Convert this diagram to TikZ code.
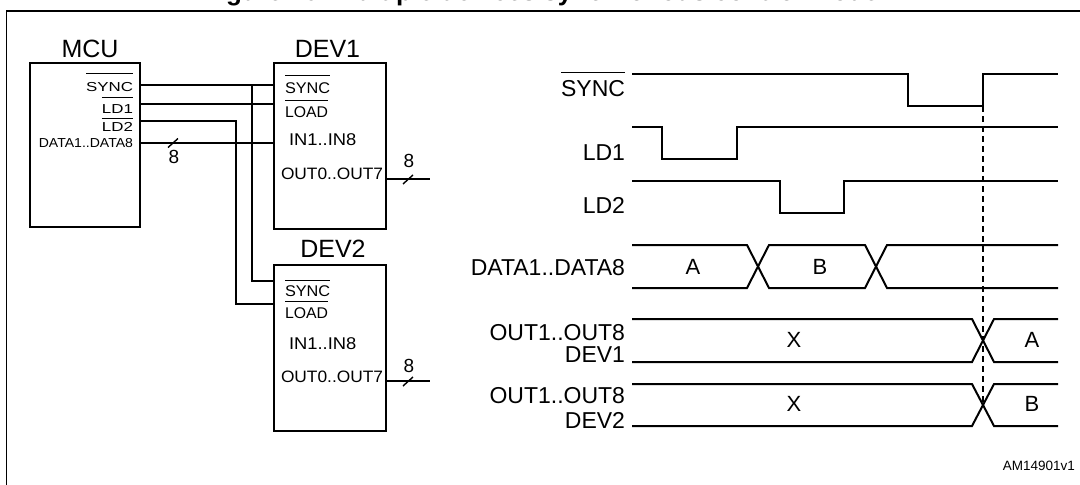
\documentclass[tikz,border=0pt]{standalone}
\usepackage{fontspec}
\setmainfont{Liberation Sans}
\newcommand\ovl[2]{\vbox{\hrule height 0.9pt\kern#1\hbox{#2}}}
\newcommand\fsz[1]{\fontsize{#1}{#1}\selectfont}
\tikzset{
  box/.style={draw, line width=2pt, inner sep=0pt, outer sep=0pt},
  wire/.style={line width=1.4pt},
  wave/.style={line width=2pt, line join=miter},
  txt/.style={inner sep=0pt, outer sep=0pt},
  pinm/.style={txt, font=\fsz{13}},
  pind/.style={txt, font=\fsz{15.5}},
  tlbl/.style={txt, font=\fsz{23}, anchor=base east},
  boxlbl/.style={txt, font=\fsz{25}, anchor=base},
  buslbl/.style={txt, font=\fsz{19}, anchor=base},
}
\begin{document}
\begin{tikzpicture}[x=1pt,y=-1pt]
\useasboundingbox (0,0) rectangle (1080,485);
% title (cut off at the top) and frame
\node[txt, font=\bfseries\fsz{26}, anchor=base west] (title) at (203,0) {Figure 10. Multiple devices synchronous control mode};
\draw[line width=1.6pt] (1080,11) -- (6.5,11) -- (6.5,485);

% boxes
\node[box, minimum width=110pt, minimum height=164pt] (mcu) at (85,145) {};
\node[box, minimum width=112pt, minimum height=166pt] (dev1) at (330,146) {};
\node[box, minimum width=112pt, minimum height=166pt] (dev2) at (330,348) {};
\node[boxlbl] (mculbl) at (90,57) {MCU};
\node[boxlbl] (dev1lbl) at (327.5,57) {DEV1};
\node[boxlbl] (dev2lbl) at (333,257) {DEV2};

% MCU pins
\node[pinm, anchor=base east] (msync) at (133,91) {\scalebox{1.3}[1]{\ovl{8.3pt}{SYNC}}};
\node[pinm, anchor=base east] (mld1) at (133,113) {\scalebox{1.3}[1]{\ovl{6.5pt}{LD1}}};
\node[pinm, anchor=base east] (mld2) at (133,131.5) {\scalebox{1.3}[1]{\ovl{3.4pt}{LD2}}};
\node[pinm, anchor=base east] (mdata) at (133,147) {\scalebox{1.08}[1]{DATA1..DATA8}};

% DEV1 pins
\node[pind, anchor=base west] (d1sync) at (285,93) {\scalebox{1.05}[1]{\ovl{6.2pt}{SYNC}}};
\node[pind, anchor=base west] (d1load) at (285,117) {\scalebox{1.02}[1]{\ovl{5pt}{LOAD}}};
\node[txt, font=\fsz{17}, anchor=base west] (d1in) at (289,145) {\scalebox{1.08}[1]{IN1..IN8}};
\node[txt, font=\fsz{16.5}, anchor=base west] (d1out) at (281,179) {\scalebox{1.05}[1]{OUT0..OUT7}};

% DEV2 pins
\node[pind, anchor=base west] (d2sync) at (285,296) {\scalebox{1.05}[1]{\ovl{4.4pt}{SYNC}}};
\node[pind, anchor=base west] (d2load) at (285,318) {\scalebox{1.02}[1]{\ovl{5pt}{LOAD}}};
\node[txt, font=\fsz{17}, anchor=base west] (d2in) at (289,349) {\scalebox{1.08}[1]{IN1..IN8}};
\node[txt, font=\fsz{16.5}, anchor=base west] (d2out) at (281,382) {\scalebox{1.05}[1]{OUT0..OUT7}};

% wires
\coordinate (jsync) at (252,85);
\coordinate (jld2) at (236,121);
\coordinate (o1) at (430,179);
\coordinate (o2) at (430,381);
\draw[wire] (mcu.east |- 0,85) -- (dev1.west |- 0,85);
\draw[wire] (jsync) |- (dev2.west |- 0,281);
\draw[wire] (mcu.east |- 0,104) -- (dev1.west |- 0,104);
\draw[wire] (mcu.east |- 0,121) -- (jld2) |- (dev2.west |- 0,304);
\draw[wire] (mcu.east |- 0,143) -- (dev1.west |- 0,143);
\draw[wire] (dev1.east |- o1) -- (o1);
\draw[wire] (dev2.east |- o2) -- (o2);
% bus slashes and widths
\draw[wire] (168,147.5) -- (178,138.5);
\draw[wire] (403,184) -- (413,175);
\draw[wire] (403,386) -- (413,377);
\node[buslbl] (b8a) at (174,163) {8};
\node[buslbl] (b8b) at (409,167) {8};
\node[buslbl] (b8c) at (409,372) {8};

% timing labels
\node[tlbl] (tsync) at (625,96) {\ovl{7.5pt}{SYNC}};
\node[tlbl] (tld1) at (625,160) {LD1};
\node[tlbl] (tld2) at (625,213) {LD2};
\node[tlbl] (tdata) at (625,275) {DATA1..DATA8};
\node[tlbl] (tout1) at (625,340) {OUT1..OUT8};
\node[tlbl] (tdev1) at (625,362) {DEV1};
\node[tlbl] (tout2) at (625,403) {OUT1..OUT8};
\node[tlbl] (tdev2) at (625,428) {DEV2};

% waveforms
\draw[wave] (632,74) -- (908,74) -- (908,106) -- (983,106) -- (983,74) -- (1058,74);
\draw[wave] (632,127) -- (662,127) -- (662,159) -- (737,159) -- (737,127) -- (1058,127);
\draw[wave] (632,181) -- (780,181) -- (780,213) -- (844,213) -- (844,181) -- (1058,181);
\draw[wave] (632,245) -- (747,245) -- (769,288) -- (865,288) -- (887,245) -- (1058,245);
\draw[wave] (632,288) -- (747,288) -- (769,245) -- (865,245) -- (887,288) -- (1058,288);
\draw[wave] (632,319) -- (972,319) -- (994,362) -- (1058,362);
\draw[wave] (632,362) -- (972,362) -- (994,319) -- (1058,319);
\draw[wave] (632,384) -- (972,384) -- (994,426) -- (1058,426);
\draw[wave] (632,426) -- (972,426) -- (994,384) -- (1058,384);
\draw[line width=1.2pt, dash pattern=on 6pt off 4pt] (983,106) -- (983,405);

% bus values
\tikzset{val/.style={txt, font=\fsz{22}}}
\node[val] (va) at (693,267) {A};
\node[val] (vb) at (820,267) {B};
\node[val] (vx1) at (794,340) {X};
\node[val] (vx2) at (794,404) {X};
\node[val] (va2) at (1032,340) {A};
\node[val] (vb2) at (1032,404) {B};

\node[txt, font=\fsz{13.5}, anchor=base east] (ref) at (1075,470) {AM14901v1};
\end{tikzpicture}
\end{document}
